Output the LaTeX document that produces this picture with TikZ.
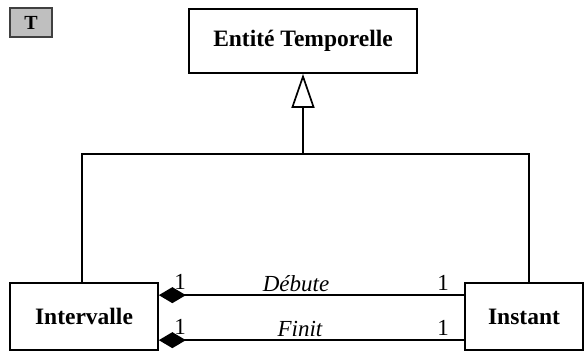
\documentclass[tikz,border=0pt]{standalone}
\usepackage{fontspec}
\setmainfont{Liberation Serif}
\usetikzlibrary{calc,positioning,arrows.meta,shapes}

\begin{document}
\begin{tikzpicture}[x=1pt,y=-1pt,line width=1.7pt,
   classe/.style={draw,rectangle,inner sep=0pt,font=\fontsize{23.5}{26}\selectfont\bfseries},
   role/.style={font=\fontsize{23}{26}\selectfont\itshape,inner sep=0pt,anchor=base},
   card/.style={font=\fontsize{23}{26}\selectfont,inner sep=0pt,anchor=base},
   gen/.style={-{Triangle[open,length=34pt,width=23pt,line width=1.7pt]}},
   comp/.style={{Diamond[length=27pt,width=16pt]}-}]
   \useasboundingbox (0,0) rectangle (586,351);
   \node[draw=black!75,fill=black!25,line width=1.2pt,minimum width=42pt,minimum height=29pt,
      inner sep=0pt,font=\fontsize{20}{22}\selectfont\bfseries] (t) at (31,22.5) {T};
   \node[classe,minimum width=228pt,minimum height=64pt] (ent) at (303,41) {Entité Temporelle};
   \node[classe,minimum width=148pt,minimum height=67pt] (int) at (84,316.5) {Intervalle};
   \node[classe,minimum width=118pt,minimum height=67pt] (inst) at (524,316.5) {Instant};
   \coordinate (j) at (303,154);
   \draw[gen] (j) -- (ent);
   \draw ($(int.north west)+(73,0)$) |- (j) -| ($(inst.north west)+(65,0)$);
   \draw[comp] ($(int.north east)+(0,13)$) -- ($(inst.north west)+(0,13)$);
   \draw[comp] ($(int.north east)+(0,58)$) -- ($(inst.north west)+(0,58)$);
   \node[role] (deb) at (296,291) {Débute};
   \node[role] (fin) at (300,336) {Finit};
   \node[card] (c1) at (180,289) {1};
   \node[card] (c2) at (180,334) {1};
   \node[card] (c3) at (443,290) {1};
   \node[card] (c4) at (443,335) {1};
\end{tikzpicture}
\end{document}
